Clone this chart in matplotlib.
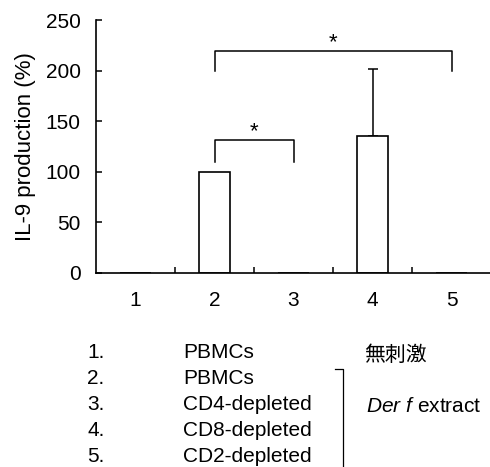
import matplotlib
matplotlib.use("Agg")
import matplotlib.pyplot as plt
from matplotlib.lines import Line2D

plt.rcParams['font.family'] = ['Liberation Sans', 'Noto Sans CJK JP', 'DejaVu Sans']
plt.rcParams['mathtext.fontset'] = 'custom'
plt.rcParams['mathtext.it'] = 'Liberation Sans:italic'
plt.rcParams['mathtext.rm'] = 'Liberation Sans'

# Data
categories = [1, 2, 3, 4, 5]
values = [0, 100, 0, 135, 0]
errors_up = [0, 0, 0, 67, 0]
yticks = [0, 50, 100, 150, 200, 250]
ylabel = "IL-9 production (%)"
sig_pairs = [(2, 3), (2, 5)]
sig_levels = [(110, 131), (200, 219)]
legend_nums = ["1.", "2.", "3.", "4.", "5."]
legend_names = ["PBMCs", "PBMCs", "CD4-depleted", "CD8-depleted", "CD2-depleted"]
cond_unstim = "無刺激"
cond_stim = r"$\it{Der\ f}$ extract"

W, H = 490, 467
fig = plt.figure(figsize=(W / 100, H / 100), dpi=100)
ax = fig.add_axes([96 / W, 1 - 273 / H, (491 - 96) / W, (273 - 20) / H])

ax.bar(categories, values, width=0.4, color='white', edgecolor='black', linewidth=1.2, zorder=2)
for c, v, e in zip(categories, values, errors_up):
    if e > 0:
        ax.errorbar(c, v, yerr=[[0], [e]], fmt='none', ecolor='black', elinewidth=1.1,
                    capsize=3.3, capthick=1.1, zorder=1)

ax.set_xlim(0.5, 5.5)
ax.set_ylim(0, 250)
ax.set_yticks(yticks)
ax.set_xticks([1.5, 2.5, 3.5, 4.5])
ax.set_xticklabels([])
ax.set_xticks(categories, minor=True)
ax.set_xticklabels([str(c) for c in categories], minor=True)
ax.tick_params(axis='x', which='major', direction='in', length=4, width=1.1)
ax.tick_params(axis='x', which='minor', length=0, pad=13, labelsize=15)
ax.tick_params(axis='y', direction='in', length=4, width=1.1, labelsize=15, pad=11)
ax.spines['top'].set_visible(False)
ax.spines['right'].set_visible(False)
ax.spines['left'].set_linewidth(1.2)
ax.spines['bottom'].set_linewidth(1.2)
ax.set_ylabel(ylabel, fontsize=16)
ax.yaxis.set_label_coords((36 - 96) / 395, 0.5)

for (a, b), (lo, hi) in zip(sig_pairs, sig_levels):
    ax.plot([a, a, b, b], [lo, hi, hi, lo], color='black', lw=1.1, clip_on=False)
    ax.text((a + b) / 2, hi - 2, "*", ha='center', va='bottom', fontsize=16)

rows_y = [353, 379, 405, 431, 457]
fs = 15
for num, name, y in zip(legend_nums, legend_names, rows_y):
    fig.text(87 / W, 1 - y / H, num, ha='left', va='center', fontsize=fs)
    fig.text(183 / W, 1 - y / H, name, ha='left', va='center', fontsize=fs)

fig.text(364 / W, 1 - 355 / H, cond_unstim, ha='left', va='center', fontsize=fs)
fig.text(366 / W, 1 - 406 / H, cond_stim, ha='left', va='center', fontsize=fs)
fig.add_artist(Line2D([335 / W, 343 / W, 343 / W], [1 - 369 / H, 1 - 369 / H, 0],
                      color='black', lw=0.9, transform=fig.transFigure))

fig.savefig("out.png", dpi=100)
